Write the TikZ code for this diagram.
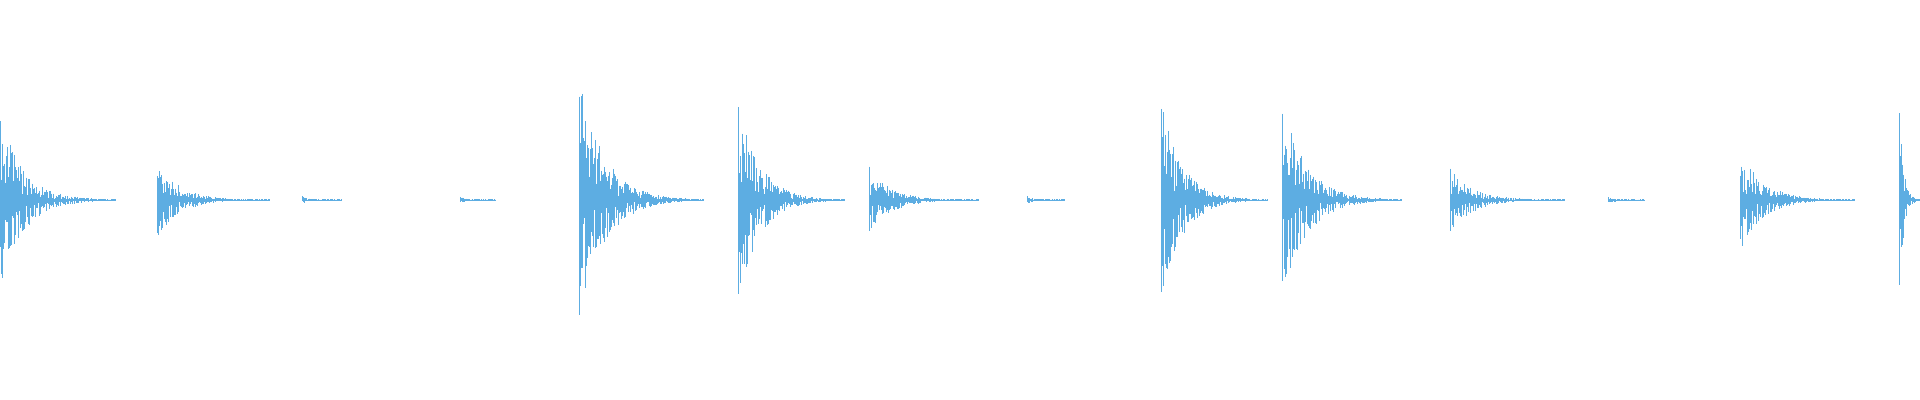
\documentclass[tikz,border=0pt]{standalone}
\definecolor{wave}{RGB}{93,173,226}
\newcommand\wburst[3]{%
  \foreach \i in {0,0.7,...,#3}{%
    \pgfmathsetmacro\env{max(#2*exp(-\i/(#3*0.2)),1.0)}%
    \pgfmathsetmacro\u{\env*(0.15+0.85*rnd)}%
    \pgfmathsetmacro\d{\env*(0.15+0.85*rnd)}%
    \draw[wavestroke] (#1+\i,200+\u) -- (#1+\i,200-\d);}%
  \draw[wavestroke] (#1,200) -- (#1+#3,200);}
\begin{document}
\begin{tikzpicture}[x=0.5pt,y=0.5pt,wavestroke/.style={wave,line width=0.45pt}]
\useasboundingbox (0,0) rectangle (1920,400);
\pgfmathsetseed{7}
\wburst{0}{88}{116}
\wburst{157}{39}{113}
\wburst{302}{4}{40}
\wburst{460}{4}{36}
\wburst{579}{123}{125}
\wburst{738}{100}{107}
\wburst{869}{34}{110}
\wburst{1027}{4}{38}
\wburst{1161}{100}{107}
\wburst{1282}{100}{120}
\wburst{1450}{33}{115}
\wburst{1608}{4}{37}
\wburst{1740}{51}{115}
\wburst{1899}{110}{21}
\end{tikzpicture}
\end{document}
